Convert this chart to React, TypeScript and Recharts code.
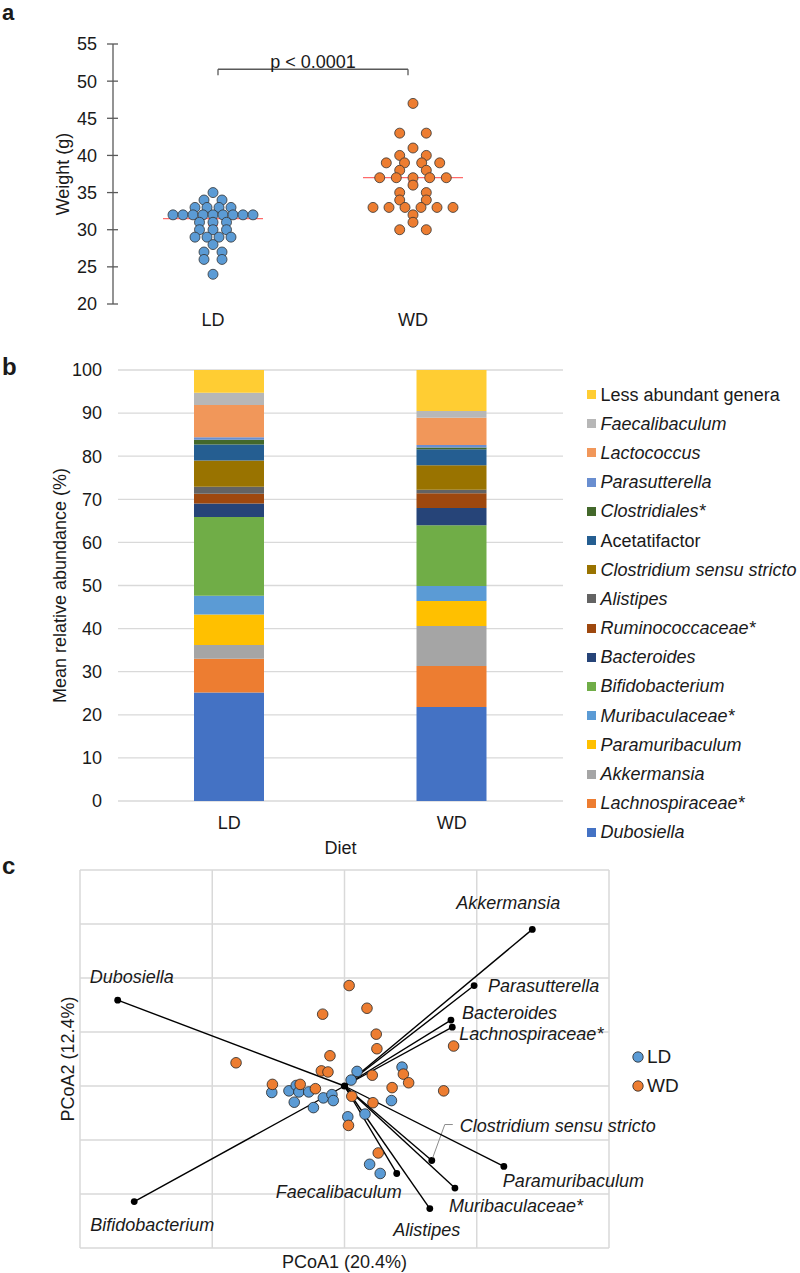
import React from 'react';
import {
  ScatterChart,
  Scatter,
  BarChart,
  Bar,
  XAxis,
  YAxis,
  CartesianGrid,
  ReferenceLine,
  Legend,
} from 'recharts';

const FONT = '"Liberation Sans", Arial, Helvetica, sans-serif';
const TEXT = '#1a1a1a';
const LD_BLUE = '#5b9bd5';
const WD_ORANGE = '#ed7d31';

// ---------- a: body weight ----------
const diets = ['LD', 'WD'];
const ldWeights = [35, 34, 34, 33, 33, 33, 33, 32, 32, 32, 32, 32, 32, 32, 32, 32, 31, 31, 31, 30, 30, 30, 29, 29, 29, 29, 28, 27, 27, 26, 26, 24];
// horizontal swarm offset of each dot (dot widths)
const ldJitter = [0, -0.9, 0.9, -1.8, -0.6, 0.6, 1.8, -4, -3, -2, -1, 0, 1, 2, 3, 4, -1.35, 0, 1.35, -1.35, 0, 1.35, -1.8, -0.6, 0.6, 1.8, 0, -0.9, 0.9, -0.9, 0.9, 0];
const wdWeights = [47, 43, 43, 41, 40, 40, 39, 39, 39, 39, 38, 38, 37, 37, 37, 37, 37, 36, 35, 35, 34, 34, 33, 33, 33, 33, 33, 33, 32, 31, 30, 30];
const wdJitter = [0, -1.33, 1.33, 0, -1.33, 1.33, -2.67, -0.85, 0.87, 2.67, -1.33, 1.33, -3.33, -1.67, 0, 1.67, 3.33, 0, -1.33, 1.33, -1.33, 1.33, -4, -2.4, -0.8, 0.8, 2.4, 4, 0, 0, -1.33, 1.33];
const weightTicks = [20, 25, 30, 35, 40, 45, 50, 55];
const pValueText = 'p < 0.0001';

// ---------- b: mean relative abundance ----------
const genera = [
  'Dubosiella',
  'Lachnospiraceae*',
  'Akkermansia',
  'Paramuribaculum',
  'Muribaculaceae*',
  'Bifidobacterium',
  'Bacteroides',
  'Ruminococcaceae*',
  'Alistipes',
  'Clostridium sensu stricto',
  'Acetatifactor',
  'Clostridiales*',
  'Parasutterella',
  'Lactococcus',
  'Faecalibaculum',
  'Less abundant genera',
];
const generaColors = [
  '#4472c4', '#ed7d31', '#a5a5a5', '#ffc000', '#5b9bd5', '#70ad47', '#264478', '#9e480e',
  '#636363', '#997300', '#255e91', '#43682b', '#698ed0', '#f1975a', '#b7b7b7', '#ffcd33',
];
const plainGenera = ['Acetatifactor', 'Less abundant genera'];
const ldAbundance = [25.2, 7.8, 3.2, 7.1, 4.3, 18.3, 3.1, 2.3, 1.6, 6.1, 3.7, 1.1, 0.6, 7.5, 2.8, 5.3];
const wdAbundance = [21.8, 9.5, 9.3, 5.8, 3.5, 14.1, 4.0, 3.4, 0.8, 5.7, 3.7, 0.4, 0.6, 6.3, 1.6, 9.5];
const abundanceTicks = [0, 10, 20, 30, 40, 50, 60, 70, 80, 90, 100];

// ---------- c: PCoA biplot ----------
const ldPc1 = [0.019, 0.010, -0.110, -0.084, -0.073, -0.069, -0.054, -0.076, -0.047, -0.032, -0.019, -0.017, 0.005, 0.031, 0.071, 0.038, 0.054, 0.087];
const ldPc2 = [0.027, 0.011, -0.012, -0.009, 0.001, -0.011, -0.011, -0.030, -0.040, -0.022, -0.016, -0.027, -0.057, -0.052, -0.027, -0.145, -0.162, 0.035];
const wdPc1 = [0.007, 0.034, -0.033, 0.048, 0.049, -0.022, -0.164, -0.035, -0.025, 0.042, -0.109, -0.067, -0.044, 0.072, 0.011, 0.043, 0.006, 0.051, 0.165, 0.089, 0.097, 0.150];
const wdPc2 = [0.186, 0.144, 0.133, 0.096, 0.069, 0.056, 0.043, 0.028, 0.026, 0.020, 0.003, 0.003, -0.005, -0.003, -0.019, -0.031, -0.073, -0.124, 0.074, 0.022, 0.006, -0.009];
const vectorNames = [
  'Dubosiella',
  'Bifidobacterium',
  'Faecalibaculum',
  'Alistipes',
  'Muribaculaceae*',
  'Clostridium sensu stricto',
  'Paramuribaculum',
  'Akkermansia',
  'Parasutterella',
  'Bacteroides',
  'Lachnospiraceae*',
];
const vectorPc1 = [-0.343, -0.318, 0.079, 0.129, 0.167, 0.132, 0.241, 0.284, 0.196, 0.161, 0.163];
const vectorPc2 = [0.159, -0.214, -0.162, -0.227, -0.189, -0.138, -0.149, 0.290, 0.186, 0.122, 0.109];
const pc1Ticks = [-0.4, -0.2, 0, 0.2, 0.4];
const pc2Ticks = [-0.3, -0.2, -0.1, 0, 0.1, 0.2, 0.3, 0.4];

// where each vector label sits relative to its end point (px)
const vectorLabelPlacement: Record<string, { dx: number; dy: number; anchor: string; leader?: boolean }> = {
  Dubosiella: { dx: -28, dy: -23, anchor: 'start' },
  Bifidobacterium: { dx: -44, dy: 23, anchor: 'start' },
  Faecalibaculum: { dx: 5, dy: 18, anchor: 'end' },
  Alistipes: { dx: -3, dy: 21, anchor: 'middle' },
  'Muribaculaceae*': { dx: -6, dy: 18, anchor: 'start' },
  'Clostridium sensu stricto': { dx: 28, dy: -35, anchor: 'start', leader: true },
  Paramuribaculum: { dx: -1, dy: 14, anchor: 'start' },
  Akkermansia: { dx: -76, dy: -27, anchor: 'start' },
  Parasutterella: { dx: 14, dy: 0, anchor: 'start' },
  Bacteroides: { dx: 11, dy: -7, anchor: 'start' },
  'Lachnospiraceae*': { dx: 7, dy: 7, anchor: 'start' },
};

const median = (v: number[]) => {
  const s = [...v].sort((a, b) => a - b);
  const m = s.length / 2;
  return s.length % 2 ? s[Math.floor(m)] : (s[m - 1] + s[m]) / 2;
};
const mean = (v: number[]) => v.reduce((a, b) => a + b, 0) / v.length;
const sem = (v: number[]) => {
  const m = mean(v);
  const sd = Math.sqrt(v.reduce((a, b) => a + (b - m) ** 2, 0) / (v.length - 1));
  return sd / Math.sqrt(v.length);
};

const groupX = [10, 30];

const renderWeightTick = (props: any) => {
  const { x, y, payload } = props;
  const axisX = x + 10 + 6;
  return (
    <g>
      <line x1={axisX - 6} x2={axisX + 5} y1={y} y2={y} stroke="#595959" strokeWidth={1.3} />
      <text x={x} y={y} dy="0.355em" textAnchor="end" fontSize={18} fill={TEXT}>
        {payload.value}
      </text>
    </g>
  );
};

const noTick = () => <g />;

function WeightPanel() {
  const groups = [
    { name: diets[0], weights: ldWeights, jitter: ldJitter, color: LD_BLUE },
    { name: diets[1], weights: wdWeights, jitter: wdJitter, color: WD_ORANGE },
  ];
  const red = '#ff6b6b';
  return (
    <ScatterChart width={540} height={340} margin={{ top: 44, right: 27, bottom: 0, left: 0 }}>
      <XAxis
        type="number"
        dataKey="x"
        domain={[0, 40]}
        ticks={groupX}
        tickFormatter={(v) => diets[groupX.indexOf(v)]}
        axisLine={false}
        tickLine={false}
        tickMargin={3}
        height={36}
        tick={{ fontSize: 18, fill: TEXT }}
      />
      <YAxis
        type="number"
        dataKey="w"
        domain={[20, 55]}
        ticks={weightTicks}
        width={113}
        axisLine={{ stroke: '#595959', strokeWidth: 1.3 }}
        tickLine={false}
        tickSize={6}
        tickMargin={10}
        tick={renderWeightTick}
        label={{
          value: 'Weight (g)',
          angle: -90,
          position: 'insideLeft',
          offset: 63,
          style: { textAnchor: 'middle', fontSize: 18, fill: TEXT },
        }}
      />
      {groups.map((g, gi) => (
        <Scatter
          key={g.name}
          name={g.name}
          isAnimationActive={false}
          data={g.weights.map((w, i) => ({ x: groupX[gi] + g.jitter[i], w }))}
          shape={(p: any) => (
            <circle cx={p.cx} cy={p.cy} r={5} fill={g.color} stroke="#333" strokeWidth={0.8} />
          )}
        />
      ))}
      {groups.map((g, gi) => {
        const med = median(g.weights);
        const m = mean(g.weights);
        const e = sem(g.weights) * 1.5;
        const cx = groupX[gi];
        return (
          <React.Fragment key={`stats-${g.name}`}>
            <ReferenceLine segment={[{ x: cx - 5, y: med }, { x: cx + 5, y: med }]} stroke={red} strokeWidth={1.2} />
            <ReferenceLine segment={[{ x: cx - 0.5, y: m }, { x: cx + 0.5, y: m }]} stroke="#e8383d" strokeWidth={1} />
            <ReferenceLine segment={[{ x: cx, y: m - e }, { x: cx, y: m + e }]} stroke="#e8383d" strokeWidth={1} />
          </React.Fragment>
        );
      })}
      <ReferenceLine segment={[{ x: 10.5, y: 50.8 }, { x: 10.5, y: 51.6 }]} stroke="#595959" strokeWidth={1.3} />
      <ReferenceLine segment={[{ x: 29.5, y: 50.8 }, { x: 29.5, y: 51.6 }]} stroke="#595959" strokeWidth={1.3} />
      <ReferenceLine
        segment={[{ x: 10.5, y: 51.6 }, { x: 29.5, y: 51.6 }]}
        stroke="#595959"
        strokeWidth={1.3}
        label={{ value: pValueText, position: 'top', offset: 1, fontSize: 18, fill: TEXT }}
      />
    </ScatterChart>
  );
}

const AbundanceLegend = () => (
  <div style={{ fontFamily: FONT, fontSize: 18, color: TEXT }}>
    {genera
      .map((name, i) => ({ name, i }))
      .reverse()
      .map(({ name, i }) => (
        <div key={name} style={{ display: 'flex', alignItems: 'center', height: 29.2 }}>
          <span style={{ width: 9, height: 9, background: generaColors[i], marginRight: 4.5, flex: 'none' }} />
          <span style={{ fontStyle: plainGenera.includes(name) ? 'normal' : 'italic', whiteSpace: 'nowrap', lineHeight: 1 }}>
            {name}
          </span>
        </div>
      ))}
  </div>
);

function AbundancePanel() {
  const rows = diets.map((d, di) => {
    const vals = di === 0 ? ldAbundance : wdAbundance;
    const row: Record<string, any> = { diet: d };
    genera.forEach((_, gi) => {
      row[`g${gi}`] = vals[gi];
    });
    return row;
  });
  return (
    <BarChart width={800} height={530} data={rows} barSize={70} margin={{ top: 30, right: 237, bottom: 0, left: 0 }}>
      <CartesianGrid vertical={false} stroke="#d9d9d9" strokeWidth={1.3} />
      <XAxis
        dataKey="diet"
        axisLine={false}
        tickLine={false}
        tickMargin={9}
        height={69}
        tick={{ fontSize: 18, fill: TEXT }}
        label={{ value: 'Diet', position: 'insideBottom', offset: 16, fontSize: 18, fill: TEXT }}
      />
      <YAxis
        type="number"
        domain={[0, 100]}
        ticks={abundanceTicks}
        width={118}
        axisLine={false}
        tickLine={false}
        tickSize={0}
        tickMargin={16}
        tick={{ fontSize: 18, fill: TEXT }}
        label={{
          value: 'Mean relative abundance (%)',
          angle: -90,
          position: 'insideLeft',
          offset: 60,
          style: { textAnchor: 'middle', fontSize: 18, fill: TEXT },
        }}
      />
      {genera.map((name, gi) => (
        <Bar key={name} dataKey={`g${gi}`} name={name} stackId="a" fill={generaColors[gi]} isAnimationActive={false} />
      ))}
      <Legend
        layout="horizontal"
        align="center"
        verticalAlign="middle"
        wrapperStyle={{ left: 587, top: 40, width: 213 }}
        content={AbundanceLegend}
      />
    </BarChart>
  );
}

const GroupLegend = () => (
  <div style={{ fontFamily: FONT, fontSize: 19, color: TEXT }}>
    {diets.map((d, i) => (
      <div key={d} style={{ display: 'flex', alignItems: 'center', height: 29.3 }}>
        <svg width={12} height={12} style={{ marginRight: 3, flex: 'none' }}>
          <circle cx={6} cy={6} r={5.2} fill={i === 0 ? LD_BLUE : WD_ORANGE} stroke="#262626" strokeWidth={0.8} />
        </svg>
        <span style={{ lineHeight: 1 }}>{d}</span>
      </div>
    ))}
  </div>
);

const renderVectorEnd = (p: any) => {
  if (!p.payload.end) return <g />;
  const place = vectorLabelPlacement[p.payload.name];
  return (
    <g>
      <circle cx={p.cx} cy={p.cy} r={3.4} fill="#000" />
      {place.leader && (
        <polyline
          points={`${p.cx + 1},${p.cy - 3} ${p.cx + 13},${p.cy - 36} ${p.cx + 21},${p.cy - 36}`}
          fill="none"
          stroke="#8c8c8c"
          strokeWidth={1}
        />
      )}
      <text
        x={p.cx + place.dx}
        y={p.cy + place.dy}
        dy="0.35em"
        textAnchor={place.anchor}
        fontSize={18}
        fontStyle="italic"
        fill={TEXT}
      >
        {p.payload.name}
      </text>
    </g>
  );
};

function PcoaPanel() {
  const ldPoints = ldPc1.map((x, i) => ({ x, y: ldPc2[i] }));
  const wdPoints = wdPc1.map((x, i) => ({ x, y: wdPc2[i] }));
  return (
    <ScatterChart width={800} height={423} margin={{ top: 20, right: 191, bottom: 0, left: 0 }}>
      <CartesianGrid stroke="#d9d9d9" strokeWidth={1.5} />
      <XAxis
        type="number"
        dataKey="x"
        domain={[-0.4, 0.4]}
        ticks={pc1Ticks}
        tick={noTick}
        axisLine={false}
        tickLine={false}
        height={25}
        label={{ value: 'PCoA1 (20.4%)', position: 'insideBottom', offset: 5, fontSize: 18, fill: TEXT }}
      />
      <YAxis
        type="number"
        dataKey="y"
        domain={[-0.3, 0.4]}
        ticks={pc2Ticks}
        tick={noTick}
        axisLine={false}
        tickLine={false}
        width={80}
        label={{
          value: 'PCoA2 (12.4%)',
          angle: -90,
          position: 'insideLeft',
          offset: 68,
          style: { textAnchor: 'middle', fontSize: 18, fill: TEXT },
        }}
      />
      {vectorNames.map((name, i) => (
        <Scatter
          key={name}
          name={name}
          isAnimationActive={false}
          data={[
            { x: 0, y: 0, name, end: false },
            { x: vectorPc1[i], y: vectorPc2[i], name, end: true },
          ]}
          line={{ stroke: '#000', strokeWidth: 1.4 }}
          shape={renderVectorEnd}
          legendType="none"
        />
      ))}
      <Scatter
        name={diets[0]}
        data={ldPoints}
        isAnimationActive={false}
        shape={(p: any) => <circle cx={p.cx} cy={p.cy} r={5.3} fill={LD_BLUE} stroke="#262626" strokeWidth={0.8} />}
      />
      <Scatter
        name={diets[1]}
        data={wdPoints}
        isAnimationActive={false}
        shape={(p: any) => <circle cx={p.cx} cy={p.cy} r={5.3} fill={WD_ORANGE} stroke="#262626" strokeWidth={0.8} />}
      />
      <Scatter
        name="origin"
        data={[{ x: 0, y: 0 }]}
        isAnimationActive={false}
        legendType="none"
        shape={(p: any) => <circle cx={p.cx} cy={p.cy} r={3.6} fill="#000" />}
      />
      <Legend
        layout="horizontal"
        align="center"
        verticalAlign="middle"
        wrapperStyle={{ left: 632, top: 192, width: 120 }}
        content={GroupLegend}
      />
    </ScatterChart>
  );
}

const letterStyle = (top: number, size = 24, lineHeight = '17px'): React.CSSProperties => ({
  position: 'absolute',
  left: 2,
  top,
  fontSize: size,
  fontWeight: 'bold',
  lineHeight,
  fontFamily: FONT,
});

export default function App() {
  return (
    <div
      style={{
        position: 'absolute',
        left: 0,
        top: 0,
        width: 800,
        height: 1273,
        background: '#fff',
        fontFamily: FONT,
        color: TEXT,
        overflow: 'hidden',
      }}
    >
      <div style={{ position: 'absolute', left: 0, top: 0 }}>
        <WeightPanel />
      </div>
      <div style={{ position: 'absolute', left: 0, top: 340 }}>
        <AbundancePanel />
      </div>
      <div style={{ position: 'absolute', left: 0, top: 850 }}>
        <PcoaPanel />
      </div>
      <div style={letterStyle(0, 22, 'normal')}>a</div>
      <div style={letterStyle(358)}>b</div>
      <div style={letterStyle(857)}>c</div>
    </div>
  );
}
